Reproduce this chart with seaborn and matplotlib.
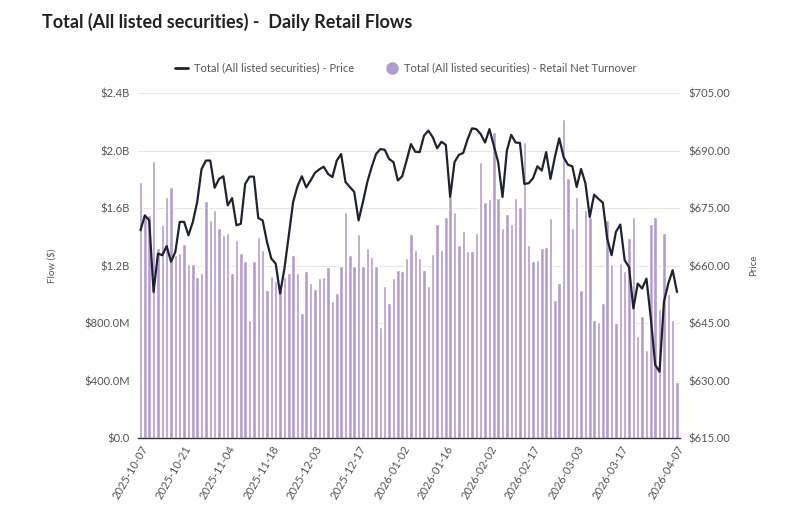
"""
plot.py — Daily retail flows (bars) with price overlay (line) on a twin axis.
"""

import matplotlib
matplotlib.use("Agg")  # headless

import matplotlib.pyplot as plt
from matplotlib.lines import Line2D
from matplotlib.ticker import FuncFormatter, MultipleLocator
import seaborn as sns
import pandas as pd
import numpy as np

# ──────────────────────────────────────────────
# DATA
# ──────────────────────────────────────────────

START_DATE = "2025-10-07"
END_DATE = "2026-04-07"
MARKET_HOLIDAYS = ["2025-11-27", "2025-12-25", "2026-01-01", "2026-01-19",
                   "2026-02-16", "2026-04-03", "2026-04-06"]

# Retail net turnover, in $B
flow_b = [
    1.78, 1.55, 1.55, 1.93, 1.32, 1.48, 1.68, 1.75, 1.27, 1.29,
    1.35, 1.21, 1.21, 1.12, 1.15, 1.65, 1.52, 1.59, 1.46, 1.41,
    1.43, 1.15, 1.38, 1.29, 1.23, 0.82, 1.23, 1.40, 1.31, 1.03,
    1.13, 1.09, 1.07, 1.12, 1.15, 1.27, 1.15, 0.87, 1.16, 1.08,
    1.04, 1.11, 1.12, 1.19, 0.95, 1.01, 1.20, 1.57, 1.27, 1.20,
    1.42, 1.20, 1.32, 1.26, 1.20, 0.77, 1.06, 0.94, 1.11, 1.17,
    1.16, 1.25, 1.42, 1.31, 1.25, 1.17, 1.06, 1.28, 1.49, 1.31,
    1.54, 1.68, 1.57, 1.34, 1.44, 1.30, 1.30, 1.43, 1.92, 1.64,
    1.66, 2.13, 1.67, 1.46, 1.56, 1.49, 1.67, 1.61, 2.06, 1.34,
    1.23, 1.24, 1.32, 1.33, 1.53, 0.96, 1.08, 2.22, 1.81, 1.46,
    1.68, 1.03, 1.59, 1.54, 0.82, 0.81, 0.94, 1.52, 1.21, 0.80,
    1.22, 1.16, 1.39, 1.54, 0.71, 0.85, 0.61, 1.49, 1.54, 0.90,
    1.43, 1.00, 0.82, 0.39,
]

# Price, in $
price = [
    669.2, 673.1, 671.8, 653.1, 663.1, 662.7, 665.1, 661.0, 663.6, 671.4,
    671.4, 667.9, 671.4, 676.6, 685.2, 687.4, 687.4, 680.3, 682.6, 683.3,
    675.7, 677.6, 670.5, 670.9, 681.3, 683.2, 683.2, 672.4, 671.8, 666.2,
    661.8, 660.5, 652.7, 659.2, 667.9, 676.6, 680.7, 683.3, 680.4, 682.2,
    684.2, 685.1, 685.8, 683.9, 683.1, 687.4, 689.1, 681.8, 680.5, 679.2,
    671.8, 676.6, 681.8, 685.7, 689.1, 690.4, 690.2, 687.8, 687.0, 682.2,
    683.3, 687.4, 691.7, 689.7, 689.6, 693.9, 695.2, 693.5, 690.6, 692.3,
    691.5, 677.9, 687.0, 688.9, 689.4, 693.0, 695.8, 695.6, 694.3, 692.1,
    695.6, 691.3, 687.0, 677.9, 690.0, 694.1, 692.1, 692.0, 681.3, 681.5,
    682.8, 685.9, 684.8, 689.6, 682.6, 688.3, 693.2, 688.3, 686.3, 685.9,
    680.5, 685.2, 681.5, 672.7, 678.5, 677.4, 676.4, 667.0, 662.7, 668.8,
    670.7, 661.4, 659.6, 648.8, 655.3, 654.0, 656.6, 646.2, 634.1, 632.3,
    650.5, 655.3, 658.8, 653.1,
]

TITLE = "Total (All listed securities) -  Daily Retail Flows"
PRICE_LABEL = "Total (All listed securities) - Price"
FLOW_LABEL = "Total (All listed securities) - Retail Net Turnover"

BAR_COLOR = "#b39bd0"
LINE_COLOR = "#1f2230"
TEXT_COLOR = "#555555"

# ──────────────────────────────────────────────
# BUILD FRAME
# ──────────────────────────────────────────────

dates = pd.bdate_range(START_DATE, END_DATE, freq="C", holidays=MARKET_HOLIDAYS)
df = pd.DataFrame({
    "date": dates.strftime("%Y-%m-%d"),
    "flow": np.array(flow_b) * 1e9,
    "price": price,
})
df["pos"] = np.arange(len(df))

# ──────────────────────────────────────────────
# PLOT
# ──────────────────────────────────────────────

sns.set_theme(style="white")
plt.rcParams["font.family"] = ["Lato", "DejaVu Sans"]

fig, ax = plt.subplots(figsize=(8.11, 5.29), dpi=100)
fig.subplots_adjust(left=0.170, right=0.838, top=0.824, bottom=0.172)

sns.barplot(data=df, x="date", y="flow", color=BAR_COLOR, saturation=1,
            width=0.8, ax=ax, order=df["date"])

ax2 = ax.twinx()
sns.lineplot(data=df, x="pos", y="price", color=LINE_COLOR, linewidth=1.6, ax=ax2)

# left axis
ax.set_ylim(0, 2.4e9)
ax.yaxis.set_major_locator(MultipleLocator(0.4e9))


def fmt_flow(v, _):
    if v == 0:
        return "$0.0"
    if v >= 1e9 - 1:
        return f"${v / 1e9:.1f}B"
    return f"${v / 1e6:.1f}M"


ax.yaxis.set_major_formatter(FuncFormatter(fmt_flow))
ax.grid(axis="y", color="#e6e6e6", linewidth=0.8)
ax.set_axisbelow(True)
ax.set_ylabel("Flow ($)", fontsize=7, color=TEXT_COLOR, labelpad=20)
ax.set_xlabel("")

# right axis
ax2.set_ylim(615, 705)
ax2.yaxis.set_major_locator(MultipleLocator(15))
ax2.yaxis.set_major_formatter(FuncFormatter(lambda v, _: f"${v:.2f}"))
ax2.set_ylabel("Price", fontsize=7, color=TEXT_COLOR, labelpad=14)
ax2.grid(False)

# x ticks: every 10th session, then the last one (drop a crowded neighbour)
last = len(df) - 1
tick_pos = [p for p in range(0, len(df), 10) if last - p >= 10] + [last]
ax.set_xticks(tick_pos)
ax.set_xticklabels(df["date"].iloc[tick_pos], rotation=60, ha="right",
                   rotation_mode="anchor", fontsize=8, color=TEXT_COLOR)
ax.set_xlim(-0.6, len(df) - 0.4)

for a in (ax, ax2):
    a.tick_params(axis="both", length=0, labelsize=8, labelcolor=TEXT_COLOR, pad=6)
    for side in ("top", "left", "right", "bottom"):
        a.spines[side].set_visible(False)
ax.spines["bottom"].set_visible(True)
ax.spines["bottom"].set_color("#333333")
ax.spines["bottom"].set_linewidth(1.0)
ax.tick_params(axis="x", pad=4, labelsize=8)

# legend + title
handles = [
    Line2D([], [], color=LINE_COLOR, linewidth=2),
    Line2D([], [], marker="o", linestyle="", color=BAR_COLOR, markersize=8),
]
fig.legend(handles, [PRICE_LABEL, FLOW_LABEL], loc="center", ncol=2,
           bbox_to_anchor=(0.5, 0.871), frameon=False, fontsize=8,
           labelcolor=TEXT_COLOR, handlelength=1.2, handletextpad=0.5,
           columnspacing=2.8)

fig.text(0.052, 0.958, TITLE, fontsize=13, fontweight="bold",
         color="#222222", ha="left", va="center")

fig.savefig("out.png", dpi=100)
plt.close(fig)
